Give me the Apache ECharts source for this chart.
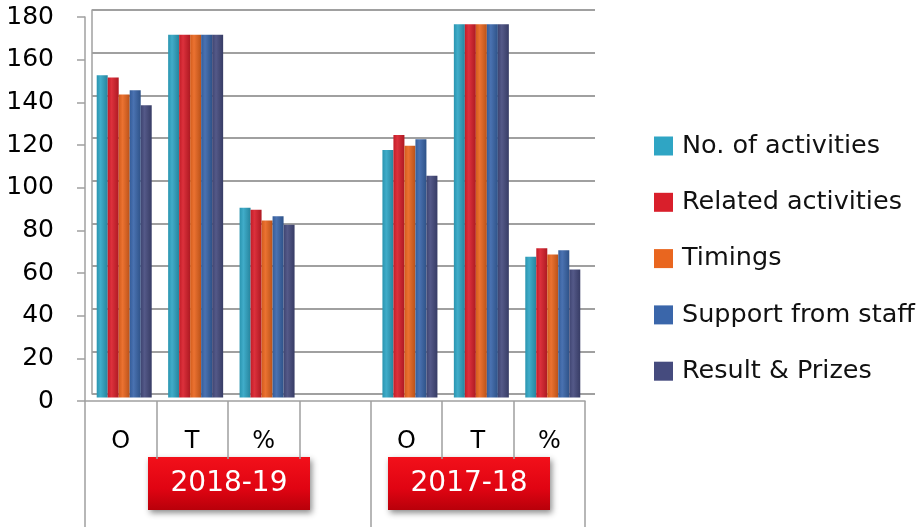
<!DOCTYPE html>
<html><head><meta charset="utf-8">
<script src="https://cdn.jsdelivr.net/npm/echarts@6/dist/echarts.min.js"></script>
<style>html,body{margin:0;padding:0;background:#fff}#c{width:917px;height:527px}</style>
</head><body><div id="c"></div>
<script>
// ---- data ----
const categories = ['O', 'T', '%', '', 'O', 'T', '%'];
const groupStarts = [0, 4];
const groupLabels = ['2018-19', '2017-18'];
const seriesNames = ['No. of activities', 'Related activities', 'Timings', 'Support from staff', 'Result & Prizes'];
const noOfActivities    = [151, 170, 89, null, 116, 175, 66];
const relatedActivities = [150, 170, 88, null, 123, 175, 70];
const timings           = [142, 170, 83, null, 118, 175, 67];
const supportFromStaff  = [144, 170, 85, null, 121, 175, 69];
const resultPrizes      = [137, 170, 81, null, 104, 175, 60];
const yMin = 0, yMax = 180, yInterval = 20;

// ---- style ----
const colors = ['#2fa5c4', '#d91f2b', '#e9661f', '#3a66aa', '#454b7e'];
const FONT = 'DejaVu Sans';
const GRIDC = '#a0a0a0';

function shade(hex, f) {
  const n = parseInt(hex.slice(1), 16);
  let r = n >> 16, g = (n >> 8) & 255, b = n & 255;
  const t = f < 0 ? 0 : 255, p = Math.abs(f);
  r = Math.round((t - r) * p + r); g = Math.round((t - g) * p + g); b = Math.round((t - b) * p + b);
  return 'rgb(' + r + ',' + g + ',' + b + ')';
}
function barFill(c) {
  return new echarts.graphic.LinearGradient(0, 0, 1, 0, [
    { offset: 0, color: shade(c, -0.1) },
    { offset: 0.35, color: shade(c, 0.08) },
    { offset: 1, color: shade(c, -0.2) }
  ]);
}

const allData = [noOfActivities, relatedActivities, timings, supportFromStaff, resultPrizes];

const chart = echarts.init(document.getElementById('c'));
chart.setOption({
  animation: false,
  backgroundColor: '#fff',
  textStyle: { fontFamily: FONT },
  grid: [
    { left: 85, top: 17, width: 500, height: 384 },
    { left: 92, top: 10, width: 503, height: 384 },
    { left: 88.5, top: 13.5, width: 500, height: 384 }
  ],
  xAxis: [
    { type: 'category', gridIndex: 0, data: categories,
      axisLine: { show: true, lineStyle: { color: GRIDC, width: 1.5 } },
      axisTick: { show: true, length: 58, lineStyle: { color: GRIDC, width: 1.5 } },
      axisLabel: { color: '#000', fontSize: 24, fontFamily: FONT, margin: 29 },
      splitLine: { show: false } },
    { type: 'category', gridIndex: 0, data: categories, position: 'bottom',
      axisLine: { show: false },
      axisTick: { show: true, length: 126, interval: function (i) { return groupStarts.indexOf(i) >= 0; },
                  lineStyle: { color: GRIDC, width: 1.5 } },
      axisLabel: { show: false }, splitLine: { show: false } },
    { type: 'category', gridIndex: 1, data: categories, show: false },
    { type: 'category', gridIndex: 2, data: categories, show: false }
  ],
  yAxis: [
    { type: 'value', gridIndex: 0, min: yMin, max: yMax, interval: yInterval,
      axisLine: { show: true, lineStyle: { color: GRIDC, width: 1.5 } },
      axisTick: { show: true, length: 8, lineStyle: { color: GRIDC, width: 1.5 } },
      axisLabel: { color: '#000', fontSize: 25, fontFamily: FONT, margin: 31 },
      splitLine: { show: false } },
    { type: 'value', gridIndex: 1, min: yMin, max: yMax, interval: yInterval,
      axisLine: { show: true, lineStyle: { color: GRIDC, width: 1.5 } },
      axisTick: { show: false }, axisLabel: { show: false },
      splitLine: { show: true, lineStyle: { color: GRIDC, width: 2 } } },
    { type: 'value', gridIndex: 2, min: yMin, max: yMax, interval: yInterval, show: false,
      splitLine: { show: false } }
  ],
  legend: {
    orient: 'vertical', left: 649, top: 128, itemWidth: 19, itemHeight: 19, itemGap: 30.3,
    icon: 'rect',
    textStyle: { color: '#111', fontSize: 25.5, fontFamily: FONT, lineHeight: 26, padding: [0, 0, 0, 4] },
    data: seriesNames.map(function (n, i) { return { name: n, itemStyle: { color: colors[i] } }; })
  },
  series: allData.map(function (d, i) {
    return {
      name: seriesNames[i], type: 'bar', xAxisIndex: 3, yAxisIndex: 2,
      data: d, barWidth: 11, barGap: '0%',
      itemStyle: { color: barFill(colors[i]) },
      emphasis: { disabled: true }
    };
  }),
  graphic: [148, 388].map(function (px, i) {
    return {
      type: 'group', x: px, y: 457, z: 100,
      children: [
        { type: 'rect', shape: { x: 0, y: 0, width: 162, height: 53 },
          style: {
            fill: new echarts.graphic.LinearGradient(0, 0, 0, 1, [
              { offset: 0, color: '#f2101a' }, { offset: 0.6, color: '#e00412' }, { offset: 1, color: '#b8000a' }
            ]),
            shadowBlur: 6, shadowOffsetX: 2, shadowOffsetY: 3, shadowColor: 'rgba(0,0,0,0.45)'
          } },
        { type: 'text', x: 81, y: 27,
          style: { text: groupLabels[i], fill: '#fff', font: '28px "DejaVu Sans"', align: 'center', verticalAlign: 'middle' } }
      ]
    };
  })
});
</script>
</body></html>
